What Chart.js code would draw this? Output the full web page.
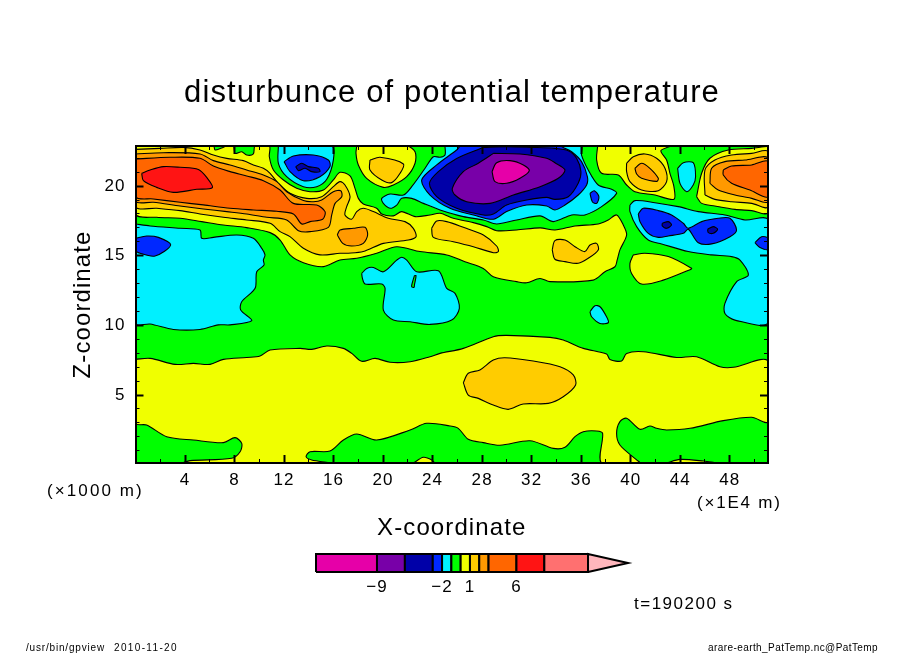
<!DOCTYPE html>
<html><head><meta charset="utf-8">
<script src="https://cdn.jsdelivr.net/npm/chart.js@4"></script>
<style>
html,body{margin:0;padding:0;background:#fff;width:904px;height:654px;overflow:hidden}
canvas{position:absolute;display:block}
.t{position:absolute;font-family:"Liberation Sans",sans-serif;color:#000;white-space:pre;line-height:1}
</style></head><body>
<canvas id="c" width="904" height="654" style="left:0;top:0"></canvas>
<canvas id="b" width="340" height="55" style="left:300px;top:545px"></canvas>
<div class="t" style="left:47px;top:482px;font-size:17px;letter-spacing:2.1px">(×1000 m)</div>
<div class="t" style="left:697px;top:494px;font-size:17px;letter-spacing:1.8px">(×1E4 m)</div>
<div class="t" style="left:634px;top:595px;font-size:17px;letter-spacing:1.5px">t=190200 s</div>
<div class="t" style="left:26px;top:643px;font-size:10px;letter-spacing:.82px">/usr/bin/gpview</div>
<div class="t" style="left:114px;top:643px;font-size:10px;letter-spacing:1.35px">2010-11-20</div>
<div class="t" style="left:708px;top:643px;font-size:10px;letter-spacing:.42px">arare-earth_PatTemp.nc@PatTemp</div>
<script>
// axis ticks
const xMajor=[4,8,12,16,20,24,28,32,36,40,44,48];
const xMinor=[2,6,10,14,18,22,26,30,34,38,42,46,50];
const yMajor=[5,10,15,20];
const yMinor=[1,2,3,4,6,7,8,9,11,12,13,14,16,17,18,19,21,22];
const xRange=[0,51.09], yRange=[0.12,22.88];
// colour bar
const levels=[-15.56,-9,-6,-3,-2,-1,0,1,2,3,6,9,13.7];
const barTip=18;
const barLabels=[-9,-2,1,6];
const barColors=['#e600a8','#7800a8','#0000a8','#0028ff','#00f0ff','#00ff00','#f0ff00','#ffcc00','#ff9900','#ff6600','#ff1414','#ff7070'];
const tipColor='#ffb6bc';
const MAG=0,PUR=1,NAV=2,BLU=3,CYA=4,GRN=5,YEL=6,GLD=7,ORA=8,DKO=9,RED=10;
const T=22.88,B=0.12,R=51.09;
// contour outlines, values in (x 1E4 m, x 1000 m)
const fieldBase=[[0,B],[R,B],[R,T],[0,T]];
const yellowTop=[[0,T],[6.29,T],[6.43,22.59],[6.96,22.74],[7.37,T],[7.91,T],[8.04,22.35],[8.58,22.47],[8.98,22.23],[9.52,22.31],[9.66,T],[10.81,T],[10.81,22.11],[11.14,21.16],[11.95,20.44],[13.02,19.84],[14.1,19.6],[15.18,19.72],[15.98,20.44],[16.52,20.99],[17.33,20.73],[17.73,19.84],[18,19.12],[18.4,18.72],[19.48,18.41],[19.89,18],[20.83,17.86],[21.5,18.17],[22.58,17.81],[23.79,17.93],[24.6,18.05],[25.67,17.69],[27.29,17.38],[28.37,17.09],[29.17,16.8],[30.79,16.85],[32.68,17],[33.88,16.85],[35.5,17.14],[37.38,17.28],[38.19,17.57],[38.86,17.93],[39.4,17.21],[39.67,16.49],[39.13,15.42],[38.91,14.7],[38.73,14.21],[37.92,13.85],[36.98,13.25],[33.48,13.14],[32.67,13.37],[31.59,13.06],[30.79,13.14],[28.9,13.49],[28.09,14.09],[26.61,14.57],[25.14,15.06],[22.98,15.3],[21.1,15.65],[19.48,15.18],[17.87,14.82],[16.52,14.7],[15.18,14.22],[13.56,14.5],[12.48,15.06],[11.68,16.13],[10.87,16.66],[8.98,17.02],[7.1,17.21],[5.35,17.45],[3.6,17.69],[1.71,17.76],[0,18]];
const yellowBlob=[[17.87,T],[21.91,T],[22.58,22.47],[22.58,21.64],[21.91,20.68],[20.83,20.08],[20.02,19.91],[18.67,20.56],[18,21.52],[17.81,22.35]];
const yellowUpperRight=[[37.33,T],[37.25,21.87],[37.65,20.92],[39,20.8],[39.67,20.08],[40.34,19.6],[41.96,19.36],[43.49,19.05],[43.49,19.96],[43.17,20.92],[42.9,21.87],[42.44,22.54],[43.17,T]];
const yellowRight=[[45.32,19.24],[45.73,20.92],[46.4,22],[47.88,22.59],[49.77,22.71],[R,22.83],[R,18.1],[49.77,18.24],[48.42,18.33],[46.8,18.57],[45.73,18.76]];
const yellowPatch=[[40.21,15.06],[41.15,15.18],[43.04,14.94],[44.92,14.1],[44.84,14.02],[42.63,13.25],[40.88,12.97],[40.07,13.73],[39.94,14.45]];
const yellowBand=[[0,7.56],[1.18,7.63],[3.2,7.2],[4.68,7.27],[6.02,7.2],[7.1,7.56],[8.98,7.7],[10.06,7.8],[10.87,8.23],[13.29,8.35],[14.23,8.28],[15.45,8.52],[16.79,8.35],[17.47,7.99],[18.27,7.42],[19.35,7.63],[20.56,7.35],[22.18,7.39],[23.79,7.75],[24.6,7.99],[26.48,8.35],[28.9,9.19],[29.98,9.28],[33.48,9.14],[34.55,8.95],[36.17,8.35],[38.05,7.94],[38.32,7.56],[39.27,7.44],[39.67,7.99],[41.02,8.11],[43.71,7.7],[45.32,7.75],[47.21,7.03],[48.29,6.99],[R,7.44],[R,3.09],[49.77,3.4],[47.48,3.16],[44.79,2.61],[42.9,2.49],[42.09,2.61],[41.55,2.78],[40.75,2.54],[39.67,3.33],[39.13,3.09],[38.86,2.25],[39.13,1.41],[40.48,.34],[40.75,B],[37.65,B],[37.73,2.25],[37.25,2.42],[36.17,2.37],[35.5,2.01],[34.69,1.25],[33.75,1.17],[31.86,1.72],[29.44,1.39],[28.09,1.58],[26.88,1.82],[26.07,2.61],[25.4,2.78],[23.52,2.97],[22.18,2.49],[19.48,1.77],[17.87,2.2],[16.79,1.77],[15.71,.98],[14.1,.93],[13.78,.57],[14.23,.34],[15.71,B],[3.87,B],[4.41,.29],[7.77,.46],[8.45,.93],[8.58,1.53],[8.04,1.94],[7.1,1.58],[4.68,1.77],[2.52,2.01],[.9,2.85],[0,2.97]];
const yellowFloorA=[[22.45,B],[23.25,.53],[23.93,.34],[24.11,B]];
const yellowFloorB=[[42.9,B],[43.98,.38],[45.86,.26],[46.81,B]];
const goldMain=[[0,22.64],[1.98,22.71],[3.87,22.78],[5.21,22.59],[6.29,22.23],[7.37,21.99],[8.71,21.83],[9.52,21.52],[10.33,21.28],[10.87,20.92],[11.54,20.2],[12.48,19.48],[13.83,19.12],[15.04,19.24],[15.98,19.96],[16.52,20.32],[16.92,20.08],[17.33,19.24],[17.06,18.53],[16.92,17.93],[17.46,17.62],[17.87,18.17],[18.4,18.41],[19.21,18.17],[20.42,17.69],[21.77,17.45],[22.44,16.97],[22.66,16.37],[22.04,16.13],[20.02,15.89],[18.4,15.3],[17.19,15.18],[16.52,15.18],[14.9,15.06],[13.56,15.54],[12.48,16.37],[11.68,16.73],[10.87,17.33],[8.98,17.57],[7.1,17.76],[5.21,18],[3.6,18.24],[1.71,18.41],[0,18.53]];
const goldCentre=[[23.92,16.97],[24.33,17.5],[25.14,17.45],[26.48,17.04],[28.1,16.49],[29.17,15.7],[29.31,15.3],[28.91,15.22],[27.29,15.65],[25.67,16.01],[24.06,16.32]];
const goldLow=[[33.66,15.42],[33.88,16.09],[34.69,16.13],[35.5,15.65],[36.3,15.3],[36.71,15.77],[37.25,15.89],[37.38,15.42],[36.57,14.82],[35.76,14.46],[34.69,14.58],[33.88,14.75]];
const goldBlob=[[18.94,21.87],[19.75,22.07],[21.64,21.59],[21.37,20.92],[20.69,20.25],[19.89,20.44],[18.94,21.16]];
const goldUpperRight=[[39.67,21.64],[40.21,22.11],[41.15,22.31],[42.09,22],[42.77,21.28],[42.9,20.32],[42.23,19.67],[40.88,19.72],[39.94,20.32],[39.67,21.04]];
const goldRight=[[46,19.36],[46,21.16],[46.8,21.87],[48.15,22.23],[49.77,22.35],[R,22.47],[R,18.52],[49.77,18.76],[48.15,18.88],[46.8,19.05]];
const goldBand=[[26.48,5.89],[26.88,6.56],[27.82,6.8],[28.9,7.51],[29.84,7.68],[32.13,7.44],[34.29,7.03],[35.36,6.44],[35.55,5.72],[34.55,4.88],[33.34,4.4],[31.32,4.36],[30.11,3.97],[28.9,4.28],[27.69,4.76],[26.88,5]];
const orangeMain=[[0,22.31],[2.25,22.4],[5.21,22.31],[6.29,21.83],[7.64,21.52],[8.98,21.16],[10.33,20.8],[11.41,20.32],[12.21,19.6],[13.56,18.96],[14.37,18.88],[15.04,19],[15.98,19.6],[16.58,19.67],[16.66,19.24],[16.12,18.76],[15.85,17.93],[15.58,17.04],[14.1,16.73],[13.16,16.8],[12.21,17.57],[10.6,17.76],[8.98,18],[7.37,18.17],[5.48,18.36],[3.6,18.57],[1.44,18.84],[0,18.93]];
const orangeBlob=[[16.3,16.49],[16.52,16.85],[17.6,16.97],[18.54,17.04],[18.75,16.49],[18.4,15.89],[17.46,15.7],[16.74,15.89]];
const orangeUpperRight=[[40.34,21.28],[40.88,21.64],[41.55,21.28],[42.23,20.56],[42.09,20.34],[40.88,20.56],[40.48,20.87]];
const orangeRight=[[46.4,20.2],[46.54,21.28],[47.61,21.76],[49.23,21.87],[R,22],[R,18.88],[49.77,19.12],[48.42,19.36],[47.07,19.72]];
const dkOrangeLeft=[[0,21.95],[2.79,22.07],[5.21,22],[6.29,21.44],[7.64,21.04],[8.98,20.73],[10.33,20.39],[11.68,19.72],[12.75,18.76],[14.64,18.64],[15.31,18.17],[15.12,17.62],[14.1,17.45],[13.43,17.28],[12.75,18],[11.41,18.19],[9.52,18.29],[7.64,18.41],[5.48,18.65],[3.6,18.84],[1.44,19.08],[0,19.24]];
const dkOrangeRight=[[47.48,21.16],[48.15,21.44],[49.77,21.52],[R,21.76],[R,19.24],[49.63,19.72],[48.15,20.2],[47.48,20.8]];
const redLeft=[[.5,20.92],[1.18,21.16],[2.25,21.4],[3.6,21.35],[5.08,21.2],[5.75,20.63],[6.21,19.89],[4.94,19.77],[3.06,19.55],[1.71,19.91],[.64,20.39]];
const cyanLeft=[[0,17.28],[1.18,17.14],[3.6,16.97],[5.21,16.85],[5.35,16.25],[6.29,16.32],[8.18,16.49],[9.52,16.25],[10.2,15.53],[10.46,15.06],[10.33,14.69],[10.38,14.33],[9.79,13.85],[9.66,12.66],[8.58,11.7],[8.5,11.1],[9.39,10.34],[7.64,10.04],[6.69,10.04],[5.21,9.71],[3.06,9.71],[1.18,10.1],[0,10.14]];
const cyanTopBlob=[[11.54,T],[11.54,21.64],[12.21,20.68],[13.56,19.96],[14.64,19.96],[15.45,20.49],[15.98,21.87],[15.85,T]];
const cyanCentre=[[25,T],[25,22.23],[24.6,22.07],[24.06,22.11],[23.39,21.28],[22.31,19.96],[21.64,19.36],[20.56,19.43],[19.89,19.12],[20.02,18.76],[20.56,18.41],[21.1,18.64],[21.5,19.12],[22.31,19.12],[23.25,18.76],[24.6,18.29],[26.48,17.81],[28.1,17.57],[29.17,17.28],[30.79,17.57],[32.68,17.86],[33.75,17.45],[35.23,17.93],[36.3,17.93],[37.65,18.53],[38.86,19.48],[38.46,19.77],[37.38,20.08],[36.57,21.16],[36.03,22.23],[35.98,T]];
const cyanOval=[[43.79,21.28],[44.25,21.68],[45.05,21.68],[45.24,20.68],[45.05,20.08],[44.52,19.6],[43.98,20.2]];
const cyanRight=[[39.94,18.65],[40.34,18.96],[41.96,18.81],[43.84,18.53],[45.46,18.17],[47.61,17.93],[49.23,17.57],[R,17.57],[R,10.22],[48.42,10.38],[47.61,10.86],[47.61,11.58],[48.56,13.14],[49.5,13.61],[48.83,14.69],[48.15,14.94],[46.54,15.06],[44.65,15.3],[42.5,15.85],[41.42,16.13],[40.48,17.09],[39.94,18.17]];
const cyanMiddle=[[18.27,13.73],[18.68,14.09],[19.22,14.16],[20.02,13.85],[21.1,14.69],[21.5,14.89],[21.91,14.69],[22.72,13.85],[24.47,13.92],[25.14,12.66],[25.81,12.3],[26.16,11.22],[25.54,10.38],[23.79,10.07],[22.18,10.26],[20.83,10.38],[20.02,11.1],[20.16,12.66],[19.89,12.97],[18.54,12.97],[18.33,13.37]];
const cyanSmall=[[36.71,10.98],[37.11,11.41],[37.52,11.34],[38.05,10.62],[38.19,10.19],[37.52,10.14],[36.84,10.62]];
const greenSliver=[[22.53,13.57],[22.66,13.57],[22.53,12.9],[22.5,12.73],[22.31,12.78],[22.34,13]];
const blueLeft=[[0,16.25],[.9,16.42],[1.85,16.32],[2.84,15.77],[1.58,14.98],[.37,15.18],[0,15.42]];
const blueTopBlob=[[12,21.76],[12.75,22.16],[14.37,22.23],[15.58,21.87],[15.71,21.4],[14.9,20.68],[13.56,20.39],[12.48,21.04]];
const blueCentre=[[26.21,T],[25.94,22.59],[24.33,21.52],[23.12,20.44],[23.79,19.36],[25.4,18.41],[27.29,17.93],[28.91,17.62],[29.98,18.17],[31.6,18.64],[33.21,18.57],[33.88,18.29],[34.69,18.64],[35.76,19.36],[36.44,20.08],[36.5,20.68],[36.03,21.76],[35.23,22.47],[34.55,22.78],[34.28,T]];
const blueSmall=[[36.71,19.48],[37.06,19.67],[37.43,19.24],[37.25,18.76],[36.9,18.88]];
const blueRight=[[40.61,18],[41.01,18.41],[42.23,18.24],[43.3,17.93],[44.25,17.33],[44.65,16.97],[45.73,17.45],[47.07,17.69],[48.02,17.69],[48.55,16.85],[48.02,16.37],[46.54,15.85],[45.46,15.94],[44.65,16.9],[44.25,16.61],[43.04,16.42],[42.23,16.32],[41.42,16.61],[40.75,17.45]];
const blueEdge=[[50.03,15.94],[50.57,16.37],[R,16.25],[R,15.46],[50.44,15.6]];
const navyTopBlob=[[12.94,21.4],[13.43,21.64],[13.96,21.4],[14.77,21.28],[14.9,21.04],[14.23,21.04],[13.7,21.28],[13.16,21.11]];
const navyCentre=[[28.1,22.78],[25.94,21.99],[24.46,21.04],[23.74,20.2],[24.33,19.24],[25.94,18.41],[28.1,17.93],[28.91,18],[29.98,18.64],[31.6,19],[33.21,19.19],[33.88,19.05],[34.96,19.24],[35.76,20.2],[35.98,21.04],[35.63,21.99],[34.96,22.54],[33.88,22.71],[32,22.78],[29.98,22.83]];
const navySpotA=[[42.55,17.33],[43.04,17.45],[43.3,17.21],[42.9,16.97],[42.55,17.14]];
const navySpotB=[[46.21,16.9],[46.67,17.09],[47.02,16.9],[46.67,16.61],[46.27,16.66]];
const purpleCentre=[[28.91,22.35],[31.06,22.31],[33.21,22],[33.88,21.68],[34.69,21.16],[34.15,20.56],[32.68,19.96],[30.52,19.36],[28.64,18.76],[26.75,18.88],[25.81,19.36],[25.59,19.84],[26.48,21.04],[27.69,21.64]];
const magentaCentre=[[28.8,21.04],[29.17,21.68],[30.25,21.83],[31.33,21.52],[31.81,21.11],[31.06,20.56],[29.98,20.2],[29.04,20.32]];
// painting order
const layers=[
 [GRN,fieldBase],
 [YEL,yellowTop],[YEL,yellowBlob],[YEL,yellowUpperRight],[YEL,yellowRight],[YEL,yellowPatch],[YEL,yellowBand],[YEL,yellowFloorA],[YEL,yellowFloorB],
 [GLD,goldMain],[GLD,goldCentre],[GLD,goldLow],[GLD,goldBlob],[GLD,goldUpperRight],[GLD,goldRight],[GLD,goldBand],
 [ORA,orangeMain],[ORA,orangeBlob],[ORA,orangeUpperRight],[ORA,orangeRight],
 [DKO,dkOrangeLeft],[DKO,dkOrangeRight],[RED,redLeft],
 [CYA,cyanLeft],[CYA,cyanTopBlob],[CYA,cyanCentre],[CYA,cyanOval],[CYA,cyanRight],[CYA,cyanMiddle],[CYA,cyanSmall],[GRN,greenSliver],
 [BLU,blueLeft],[BLU,blueTopBlob],[BLU,blueCentre],[BLU,blueSmall],[BLU,blueRight],[BLU,blueEdge],
 [NAV,navyTopBlob],[NAV,navyCentre],[NAV,navySpotA],[NAV,navySpotB],
 [PUR,purpleCentre],[MAG,magentaCentre]
];
const font='"Liberation Sans",sans-serif';
const spaced=px=>({id:'spaced',beforeDraw:c=>{c.ctx.letterSpacing=px}});
const poly=(pts,color,w,i,n,t)=>({data:[...pts,pts[0]].map(([x,y])=>({x,y})),order:n-i,showLine:true,fill:'shape',backgroundColor:color,borderColor:'#000',borderWidth:w,pointRadius:0,tension:t});
function axis(position,range,ticks,len,wid,extra){
  return Object.assign({type:'linear',position,min:range[0],max:range[1],weight:0,
    afterBuildTicks:s=>{s.ticks=ticks.map(value=>({value}))},
    afterFit:s=>{if(position==='top'||position==='bottom')s.height=0;else s.width=0},
    ticks:{display:false,autoSkip:false,maxRotation:0},
    grid:{drawOnChartArea:false,drawTicks:true,tickLength:len,tickWidth:wid,tickColor:'#000',z:2},
    border:{display:true,color:'#000',width:2,z:3}},extra||{});
}
const tickFont={family:font,size:17};
new Chart(document.getElementById('c'),{
  type:'scatter',
  data:{datasets:layers.map(([c,p],i)=>poly(p,barColors[c],1.1,i,layers.length,i===0?0:0.3))},
  plugins:[spaced('1.1px')],
  options:{responsive:false,animation:false,devicePixelRatio:1,
    layout:{padding:0},
    plugins:{legend:{display:false},tooltip:{enabled:false},
      title:{display:true,text:'disturbunce of potential temperature',color:'#000',font:{family:font,size:31,weight:'normal',lineHeight:1.2},padding:{top:75,bottom:33.8}}},
    scales:{
      x:axis('bottom',xRange,xMajor,-8,2,{weight:1,
        afterFit:s=>{s.height=191},
        ticks:{display:true,autoSkip:false,maxRotation:0,minRotation:0,color:'#000',font:tickFont,padding:15},
        title:{display:true,text:'X-coordinate',color:'#000',font:{family:font,size:24,lineHeight:1.2},padding:{top:0,bottom:111}}}),
      y:axis('left',yRange,yMajor,-8,2,{weight:1,
        afterFit:s=>{s.width=135.5},
        ticks:{display:true,autoSkip:false,maxRotation:0,minRotation:0,color:'#000',font:tickFont,padding:18},
        title:{display:true,text:'Z-coordinate',color:'#000',font:{family:font,size:24,lineHeight:1.2},padding:{top:69,bottom:0}}}),
      xm:axis('bottom',xRange,xMinor,-4,1),
      ym:axis('left',yRange,yMinor,-4,1),
      xt:axis('top',xRange,xMajor,-8,2),
      xtm:axis('top',xRange,xMinor,-4,1),
      yr:axis('right',yRange,yMajor,-8,2,{weight:1,afterFit:s=>{s.width=136}}),
      yrm:axis('right',yRange,yMinor,-4,1)
    }
  }
});
// colour bar
const seg=[];
const nSeg=levels.length;
for(let i=0;i<levels.length-1;i++){seg.push(poly([[levels[i],0],[levels[i+1],0],[levels[i+1],1],[levels[i],1]],barColors[i],2,i,nSeg,0))}
const last=levels[levels.length-1];
seg.push(poly([[last,0],[barTip,.5],[last,1]],tipColor,2,nSeg-1,nSeg,0));
seg.forEach(d=>{d.clip=false});
new Chart(document.getElementById('b'),{
  type:'scatter',
  data:{datasets:seg},
  plugins:[spaced('1px')],
  options:{responsive:false,animation:false,devicePixelRatio:1,
    layout:{padding:{left:16,right:12,top:9,bottom:0}},
    plugins:{legend:{display:false},tooltip:{enabled:false}},
    scales:{
      x:{type:'linear',min:levels[0],max:barTip,afterBuildTicks:s=>{s.ticks=barLabels.map(value=>({value}))},
        afterFit:s=>{s.height=28},
        grid:{display:false,drawTicks:false},border:{display:false},
        ticks:{autoSkip:false,maxRotation:0,color:'#000',font:{family:font,size:17},padding:5,callback:v=>String(v).replace('-','\u2212')}},
      y:{type:'linear',min:0,max:1,display:false}
    }
  }
});
</script>
</body></html>
